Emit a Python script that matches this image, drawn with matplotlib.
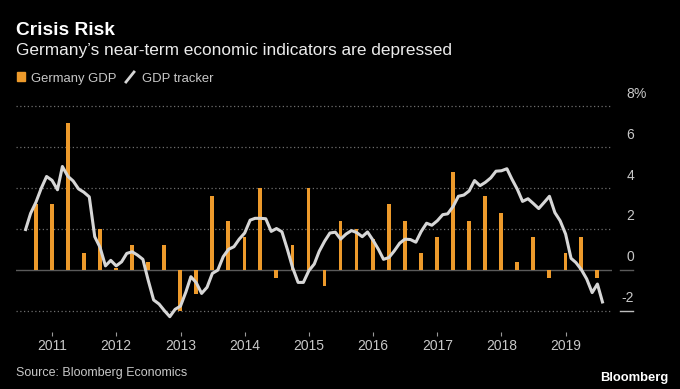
import matplotlib
matplotlib.use('Agg')
import matplotlib.pyplot as plt
import matplotlib.lines as mlines
import matplotlib.patches as mpatches
import pandas as pd

# quarterly GDP, annualized q/q %
gdp_quarters = pd.period_range('2010Q3', '2019Q2', freq='Q')
gdp_values = [3.2, 3.2, 7.2, 0.8, 2.0, 0.1,
              1.2, 0.4, 1.2, -2.0,
              -1.2, 3.6, 2.4, 1.6,
              4.0, -0.4, 1.2, 4.0,
              -0.8, 2.4, 2.0, 1.5,
              3.2, 2.4, 0.8, 1.6,
              4.8, 2.4, 3.6, 2.8,
              0.4, 1.6, -0.4, 0.8,
              1.6, -0.4]

# monthly GDP tracker
tracker_months = pd.date_range('2010-08-01', '2019-08-01', freq='MS')
tracker_values = [1.9, 2.76, 3.3, 4.0, 4.57, 4.38, 3.92, 5.06, 4.58, 4.35,
                  3.96, 3.8, 3.57, 1.62, 1.1, 0.19, 0.46, 0.19, 0.39, 0.8,
                  0.88, 0.72, 0.51, -0.51, -1.48, -1.68, -2.0, -2.3, -1.94, -1.78,
                  -1.08, -0.34, -0.64, -1.16, -0.86, -0.18, -0.02, 0.64, 1.0, 1.13,
                  1.5, 1.8, 2.43, 2.52, 2.52, 2.5, 1.88, 2.02, 1.86, 1.0,
                  0.1, -0.62, -0.62, -0.05, 0.28, 0.9, 1.4, 1.8, 1.84, 1.5,
                  1.75, 1.92, 1.82, 1.62, 1.85, 1.45, 1.0, 0.51, 0.6, 0.92,
                  1.3, 1.5, 1.48, 1.35, 1.87, 2.28, 2.18, 2.4, 2.7, 2.74,
                  3.1, 3.6, 3.66, 3.86, 4.37, 4.12, 4.28, 4.5, 4.83, 4.85,
                  4.95, 4.45, 3.95, 3.35, 3.48, 3.25, 3.0, 3.3, 3.6, 2.8,
                  2.4, 1.75, 0.56, 0.35, 0.0, -0.45, -1.12, -0.7, -1.65]

year_ticks = list(range(2011, 2020))
y_ticks = [-2, 0, 2, 4, 6, 8]

orange = '#ED9A2B'
line_grey = '#d6d6d6'
text_grey = '#c8c8c8'

plt.rcParams['font.family'] = ['Liberation Sans', 'DejaVu Sans']

W, H = 680, 389
fig = plt.figure(figsize=(W / 100, H / 100), dpi=100, facecolor='black')


def fx(px):
    return px / W


def fy(py):
    return 1 - py / H


ax = fig.add_axes([fx(16), fy(332), fx(612) - fx(16), fy(102.4) - fy(332)])
ax.set_facecolor('black')

for v in y_ticks:
    if v == 0:
        ax.axhline(v, color='#5a5a5a', lw=1.0, zorder=1)
    else:
        ax.axhline(v, color='#6e6e6e', lw=0.9, linestyle=(0, (1, 2)), zorder=1)

ax.bar(gdp_quarters.end_time.normalize(), gdp_values, width=21, color=orange, zorder=2)
ax.plot(tracker_months, tracker_values, color=line_grey, lw=2.2,
        solid_joinstyle='round', solid_capstyle='butt', zorder=3)

ax.set_xlim(pd.Timestamp('2010-06-10'), pd.Timestamp('2019-09-22'))
ax.set_ylim(-3.05, 8.2)
ax.set_yticks([])
ax.set_xticks([pd.Timestamp(f'{y}-01-01') for y in year_ticks])
ax.set_xticklabels([str(y) for y in year_ticks])
ax.tick_params(axis='x', length=2.6, width=0.8, color='#9a9a9a',
               labelcolor=text_grey, labelsize=10, pad=2.5)
for s in ax.spines.values():
    s.set_visible(False)

# right-hand value labels
for v in y_ticks:
    ax.annotate(str(v), xy=(1, v), xycoords=('axes fraction', 'data'),
                xytext=(22 * 0.72, 12.5 * 0.72), textcoords='offset points',
                ha='right', va='center', color=text_grey, fontsize=10)
ax.annotate('%', xy=(1, 8), xycoords=('axes fraction', 'data'),
            xytext=(22 * 0.72, 12.5 * 0.72), textcoords='offset points',
            ha='left', va='center', color=text_grey, fontsize=10)
for v, c in [(0, '#5a5a5a'), (-2, '#bdbdbd')]:
    ax.plot([1 + 8 / 596, 1 + 21 / 596], [v, v], transform=ax.get_yaxis_transform(),
            color=c, lw=1.0, clip_on=False)

# titles
fig.text(fx(16), fy(35), 'Crisis Risk', color='white', fontsize=13.8,
         fontweight='bold', va='baseline')
fig.text(fx(16), fy(55), 'Germany\u2019s near-term economic indicators are depressed',
         color='#ececec', fontsize=12.4, va='baseline')

# legend
fig.add_artist(mpatches.Rectangle((fx(17), fy(81)), 8 / W, 9 / H, color=orange))
fig.text(fx(31), fy(82), 'Germany GDP', color=text_grey, fontsize=9.4, va='baseline')
fig.add_artist(mlines.Line2D([fx(126), fx(134)], [fy(82), fy(72)], color=line_grey, lw=2))
fig.text(fx(142), fy(82), 'GDP tracker', color=text_grey, fontsize=9.4, va='baseline')

# footer
fig.text(fx(16), fy(376), 'Source: Bloomberg Economics', color=text_grey,
         fontsize=9, va='baseline')
fig.text(fx(668), fy(381), 'Bloomberg', color='white', fontsize=9.4,
         fontweight='bold', ha='right', va='baseline')

fig.savefig('out.png', dpi=100, facecolor='black')
